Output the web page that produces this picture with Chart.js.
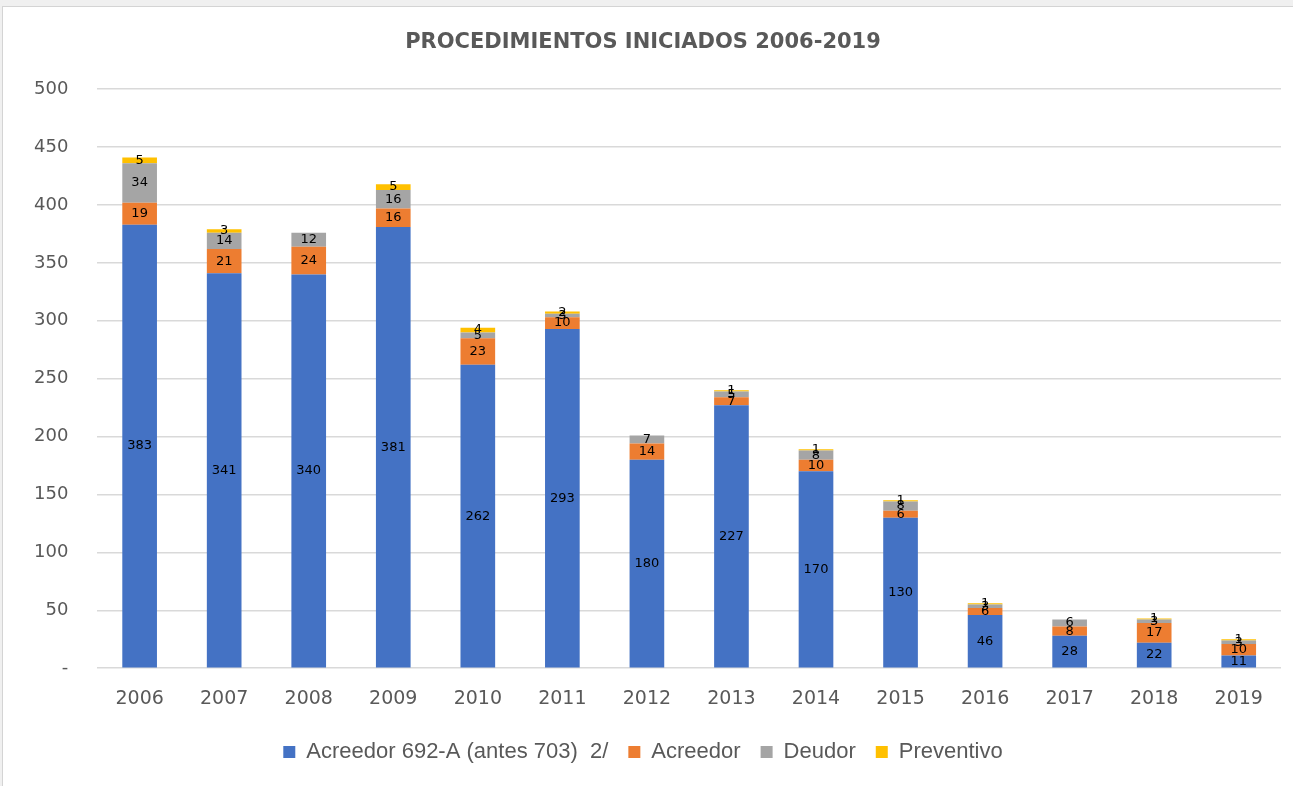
<!DOCTYPE html>
<html>
<head>
<meta charset="utf-8">
<script src="https://cdn.jsdelivr.net/npm/chart.js@4.4.0/dist/chart.umd.min.js"></script>
<style>
  body { margin: 0; background: #f0f0f0; }
  .panel {
    position: absolute; left: 2px; top: 6px; width: 1291px; height: 780px;
    background: #fff; border-left: 1px solid #d4d4d4; border-top: 1px solid #d4d4d4;
  }
  canvas { display: block; }
</style>
</head>
<body>
<div class="panel"><canvas id="chart" width="1290" height="779"></canvas></div>
<script>
const years = ["2006", "2007", "2008", "2009", "2010", "2011", "2012", "2013", "2014", "2015", "2016", "2017", "2018", "2019"];
const acreedor692 = [383, 341, 340, 381, 262, 293, 180, 227, 170, 130, 46, 28, 22, 11];
const acreedor = [19, 21, 24, 16, 23, 10, 14, 7, 10, 6, 6, 8, 17, 10];
const deudor = [34, 14, 12, 16, 5, 3, 7, 5, 8, 8, 3, 6, 3, 3];
const preventivo = [5, 3, 0, 5, 4, 2, 0, 1, 1, 1, 1, 0, 1, 1];

const FONT = "'DejaVu Sans', 'Liberation Sans', Arial, sans-serif";
const LEGEND_FONT = "'Liberation Sans', Arial, sans-serif";

// labels in the middle of every segment (no datalabels plugin available)
const segmentLabels = {
  id: "segmentLabels",
  afterDatasetsDraw: function (chart) {
    var ctx = chart.ctx;
    ctx.save();
    ctx.font = "13px " + FONT;
    ctx.fillStyle = "#000";
    ctx.textAlign = "center";
    ctx.textBaseline = "middle";
    chart.data.datasets.forEach(function (ds, i) {
      var meta = chart.getDatasetMeta(i);
      meta.data.forEach(function (bar, j) {
        var v = ds.data[j];
        if (!v) return;
        ctx.fillText(v, bar.x, (bar.y + bar.base) / 2);
      });
    });
    ctx.restore();
  }
};

new Chart(document.getElementById("chart"), {
  type: "bar",
  data: {
    labels: years,
    datasets: [
      { label: "Acreedor 692-A (antes 703)  2/", data: acreedor692, backgroundColor: "#4472c4" },
      { label: "Acreedor", data: acreedor, backgroundColor: "#ed7d31" },
      { label: "Deudor", data: deudor, backgroundColor: "#a5a5a5" },
      { label: "Preventivo", data: preventivo, backgroundColor: "#ffc000" }
    ]
  },
  options: {
    responsive: false,
    animation: false,
    layout: { padding: { left: 2, right: 12, top: 10, bottom: 13 } },
    datasets: { bar: { barPercentage: 0.41, categoryPercentage: 1, borderWidth: 0 } },
    plugins: {
      title: {
        display: true,
        text: "PROCEDIMIENTOS INICIADOS 2006-2019",
        color: "#595959",
        font: { family: FONT, size: 21, weight: "bold" },
        padding: { top: 13, bottom: 34 }
      },
      legend: {
        position: "bottom",
        labels: {
          color: "#595959",
          font: { family: LEGEND_FONT, size: 22 },
          boxWidth: 12,
          boxHeight: 12,
          padding: 20
        }
      },
      tooltip: { enabled: false }
    },
    scales: {
      x: {
        stacked: true,
        grid: { display: false },
        border: { display: false },
        ticks: { color: "#595959", font: { family: FONT, size: 19 }, padding: 11 }
      },
      y: {
        stacked: true,
        min: 0,
        max: 500,
        grid: { color: "#d9d9d9", lineWidth: 1.5, drawTicks: false },
        border: { display: false },
        ticks: {
          stepSize: 50,
          color: "#595959",
          font: { family: FONT, size: 18 },
          padding: 29,
          callback: function (v) { return v === 0 ? "-" : v; }
        }
      }
    }
  },
  plugins: [segmentLabels]
});
</script>
</body>
</html>
